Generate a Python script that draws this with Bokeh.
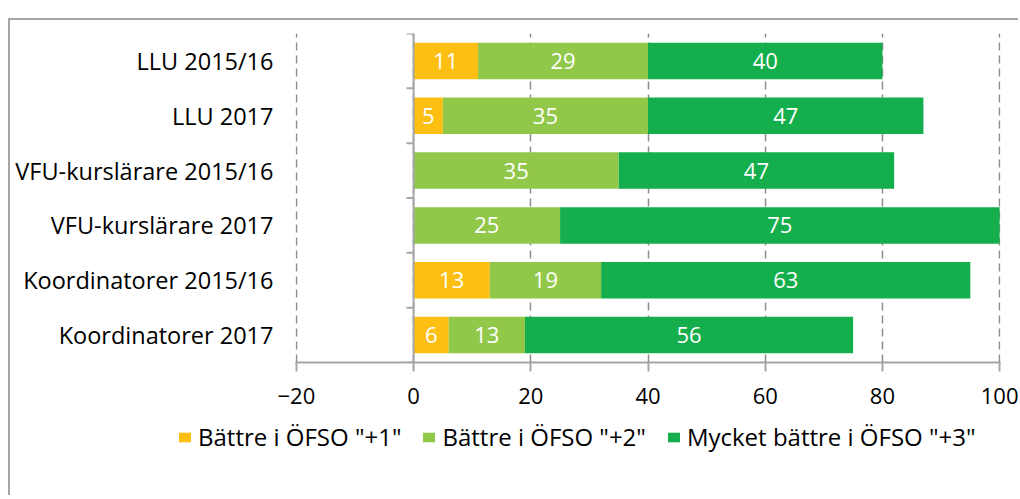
from bokeh.plotting import figure
from bokeh.models import (ColumnDataSource, FixedTicker, Legend, LegendItem,
                          Range1d, Span)
from bokeh.core.properties import value
from bokeh.embed import file_html
from bokeh.resources import INLINE

# ---- data ----
categories = ["LLU 2015/16", "LLU 2017", "VFU-kurslärare 2015/16",
              "VFU-kurslärare 2017", "Koordinatorer 2015/16", "Koordinatorer 2017"]
plus1 = [11, 5, 0, 0, 13, 6]
plus2 = [29, 35, 35, 25, 19, 13]
plus3 = [40, 47, 47, 75, 63, 56]
series_names = ['Bättre i ÖFSO "+1"', 'Bättre i ÖFSO "+2"', 'Mycket bättre i ÖFSO "+3"']
colors = ["#FDBF12", "#92C84A", "#14AE4D"]
x_ticks = [-20, 0, 20, 40, 60, 80, 100]

FONT = "Open Sans"
GRAY = "#a6a6a6"

n = len(categories)
# top category first -> highest y
ypos = [n - i - 0.5 for i in range(n)]

p = figure(frame_width=705, frame_height=329, output_backend="svg", toolbar_location=None,
           x_range=Range1d(-20.15, 100.15), y_range=Range1d(0, n),
           min_border_left=285, min_border_right=20, min_border_top=13, min_border_bottom=60)
p.margin = (20, 0, 0, 10)
p.styles = {"box-shadow": "-2px -2px 0 0 #a6a6a6"}
p.outline_line_color = None
p.ygrid.visible = False
p.xgrid.ticker = FixedTicker(ticks=x_ticks)
p.xgrid.grid_line_color = "#8c8c8c"
p.xgrid.grid_line_width = 1.5
p.xgrid.grid_line_dash = "8 5"

# stacked bars
series = [plus1, plus2, plus3]
left = [0] * n
for vals, col in zip(series, colors):
    right = [l + v for l, v in zip(left, vals)]
    src = ColumnDataSource(dict(y=ypos, left=left, right=right))
    p.hbar(y="y", left="left", right="right", height=0.665, source=src,
           fill_color=col, line_color=None)
    lx, ly, lt = [], [], []
    for i, v in enumerate(vals):
        if v > 0:
            lx.append((left[i] + right[i]) / 2)
            ly.append(ypos[i])
            lt.append(str(v))
    p.text(x=lx, y=ly, text=lt, text_color="white", text_font=value(FONT),
           text_font_size="22px", text_align="center", text_baseline="middle")
    left = right

# x axis
xa = p.xaxis[0]
xa.ticker = FixedTicker(ticks=x_ticks)
xa.axis_line_color = GRAY
xa.axis_line_width = 2
xa.major_tick_line_color = GRAY
xa.major_tick_line_width = 2
xa.major_tick_out = 9
xa.major_tick_in = 0
xa.minor_tick_line_color = None
xa.major_label_text_font = FONT
xa.major_label_text_font_size = "22px"
xa.major_label_text_color = "black"
xa.major_label_standoff = 16

# y axis labels (category names)
ya = p.yaxis[0]
ya.ticker = FixedTicker(ticks=ypos)
ya.major_label_overrides = {y: c for y, c in zip(ypos, categories)}
ya.axis_line_color = None
ya.major_tick_line_color = None
ya.major_tick_out = 0
ya.major_tick_in = 0
ya.minor_tick_line_color = None
ya.minor_tick_out = 0
ya.major_label_text_font = FONT
ya.major_label_text_font_size = "23.5px"
ya.major_label_text_color = "black"
ya.major_label_standoff = 22

# y axis line at x = 0 with boundary ticks
p.add_layout(Span(location=0, dimension="height", line_color=GRAY, line_width=2))
bounds = list(range(n + 1))
p.segment(x0=[-1.2] * len(bounds), x1=[0] * len(bounds), y0=bounds, y1=bounds,
          line_color=GRAY, line_width=2)

# legend strip below the chart (separate root, so no frame alignment)
lf = figure(width=1010, height=77, output_backend="svg", toolbar_location=None,
            x_range=Range1d(0, 1), y_range=Range1d(0, 1), min_border=0,
            x_axis_location=None, y_axis_location=None)
lf.margin = (-4, 0, 0, 10)
lf.styles = {"box-shadow": "-2px 0 0 0 #a6a6a6"}
lf.grid.visible = False
lf.outline_line_color = None
keys = [lf.hbar(y=[0.5], left=[0], right=[0], height=0.1, fill_color=c, line_color=None)
        for c in colors]
legend = Legend(items=[LegendItem(label=nm, renderers=[r]) for nm, r in zip(series_names, keys)],
                orientation="horizontal", location=(167, 42),
                glyph_width=15, glyph_height=12, label_standoff=6, spacing=20,
                label_text_font=FONT, label_text_font_size="24px", label_text_color="black",
                border_line_color=None, background_fill_alpha=0, padding=0, margin=0)
lf.add_layout(legend, "center")

open("out.html", "w").write(file_html([p, lf], INLINE))
